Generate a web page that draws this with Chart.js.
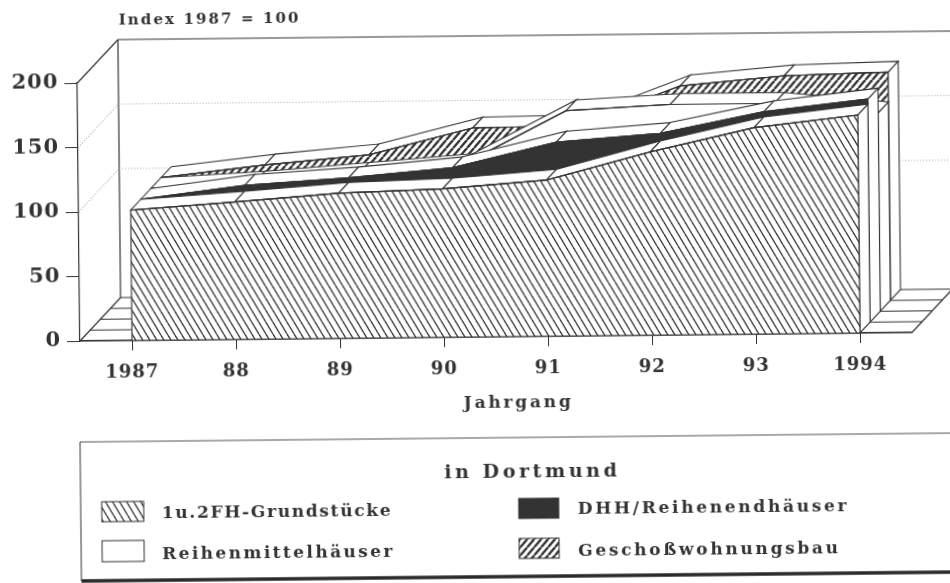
<!DOCTYPE html>
<html>
<head>
<meta charset="utf-8">
<title>Index 1987 = 100</title>
<script src="https://cdn.jsdelivr.net/npm/chart.js@4"></script>
<style>
    html, body { margin: 0; padding: 0; width: 950px; height: 583px; overflow: hidden; background: #fff; }
    #wrap { position: absolute; left: 0; top: 0; transform-origin: 80px 341px; transform: rotate(-0.587deg); filter: blur(0.45px); }
</style>
</head>
<body>
<div id="wrap"><canvas id="chart" width="1010" height="620"></canvas></div>
<script>
var years = ['1987', '88', '89', '90', '91', '92', '93', '1994'];

var grundstuecke = [101, 106.5, 112.5, 115, 121, 142, 160, 169];
var reihenend = [101, 111, 116, 123, 142, 148, 164, 173];
var reihenmittel = [101, 105, 111, 117, 158, 162, 162, 154];
var geschoss = [101, 110, 117, 137, 138, 168, 175, 177];

var ink = '#333333';
var fontName = '"DejaVu Serif", serif';
var depthX = 10.25;
var depthY = -10.75;

function hatch(w, h, down, lineWidth) {
    var tile = document.createElement('canvas');
    tile.width = w;
    tile.height = h;
    var c = tile.getContext('2d');
    c.fillStyle = '#fff';
    c.fillRect(0, 0, w, h);
    c.strokeStyle = ink;
    c.lineWidth = lineWidth;
    [-w, 0, w].forEach(function (s) {
        c.beginPath();
        c.moveTo(s, down ? 0 : h);
        c.lineTo(s + w, down ? h : 0);
        c.stroke();
    });
    return document.createElement('canvas').getContext('2d').createPattern(tile, 'repeat');
}

var backslash = hatch(7, 12, true, 1.3);
var slash = hatch(7, 8, false, 2.4);

var faces = [backslash, ink, '#fff', slash];

function line(ctx, x1, y1, x2, y2) {
    ctx.beginPath();
    ctx.moveTo(x1, y1);
    ctx.lineTo(x2, y2);
    ctx.stroke();
}

function polygon(ctx, pts, fill) {
    ctx.beginPath();
    pts.forEach(function (p, i) {
        if (i === 0) ctx.moveTo(p[0], p[1]);
        else ctx.lineTo(p[0], p[1]);
    });
    ctx.closePath();
    ctx.fillStyle = fill;
    ctx.fill();
    ctx.stroke();
}

// back wall, floor and the dotted grid behind the series
var wallPlugin = {
    id: 'wall',
    beforeDatasetsDraw: function (chart) {
        var ctx = chart.ctx;
        var y = chart.scales.y;
        var x = chart.scales.x;
        var bx = depthX * 4;
        var by = depthY * 4;
        ctx.save();
        ctx.strokeStyle = ink;
        ctx.lineWidth = 1.2;
        line(ctx, x.left, y.top, x.left + bx, y.top + by);
        line(ctx, x.left + bx, y.top + by, 1010, y.top + by);
        line(ctx, x.left + bx, y.top + by, x.left + bx, y.bottom + by);
        line(ctx, x.left, y.bottom, x.left + bx, y.bottom + by);
        line(ctx, x.right, y.bottom, x.right + bx, y.bottom + by);
        for (var k = 0; k <= 4; k++) {
            line(ctx, x.left + depthX * k, y.bottom + depthY * k, x.right + depthX * k, y.bottom + depthY * k);
        }
        ctx.strokeStyle = '#a8a8a8';
        ctx.setLineDash([1, 2]);
        y.ticks.forEach(function (t) {
            if (t.value !== 100 && t.value !== 150) return;
            var py = y.getPixelForValue(t.value);
            line(ctx, x.left, py, x.left + bx, py + by);
            line(ctx, x.left + bx, py + by, 1010, py + by);
        });
        ctx.restore();
    },
    beforeDatasetDraw: function (chart, args) {
        var ctx = chart.ctx;
        var k = args.index;
        var pts = args.meta.data;
        var base = chart.scales.y.getPixelForValue(0);
        var ox = depthX * k;
        var oy = depthY * k;
        var last = pts[pts.length - 1];
        var face = [];
        var i;

        ctx.save();
        ctx.strokeStyle = ink;
        ctx.lineWidth = 1.1;

        // right end of the slab
        polygon(ctx, [
            [last.x + ox, last.y + oy],
            [last.x + ox + depthX, last.y + oy + depthY],
            [last.x + ox + depthX, base + oy + depthY],
            [last.x + ox, base + oy]
        ], '#fff');

        // top of the slab, one panel per year
        for (i = 0; i < pts.length - 1; i++) {
            polygon(ctx, [
                [pts[i].x + ox, pts[i].y + oy],
                [pts[i + 1].x + ox, pts[i + 1].y + oy],
                [pts[i + 1].x + ox + depthX, pts[i + 1].y + oy + depthY],
                [pts[i].x + ox + depthX, pts[i].y + oy + depthY]
            ], '#fff');
        }

        // front of the slab
        face.push([pts[0].x + ox, base + oy]);
        pts.forEach(function (p) {
            face.push([p.x + ox, p.y + oy]);
        });
        face.push([last.x + ox, base + oy]);
        polygon(ctx, face, faces[k]);
        ctx.restore();

        ctx.save();
        ctx.translate(ox, oy);
    },
    afterDatasetDraw: function (chart) {
        chart.ctx.restore();
    }
};

function swatch(ctx, x, y, w, h, fill) {
    ctx.fillStyle = fill;
    ctx.fillRect(x, y, w, h);
    ctx.strokeRect(x, y, w, h);
}

function label(ctx, text, x, y, spacing) {
    ctx.letterSpacing = spacing + 'px';
    ctx.fillText(text, x, y);
}

// headline, axis name and the boxed legend
var textPlugin = {
    id: 'texts',
    beforeDraw: function (chart) {
        chart.ctx.letterSpacing = '1px';
    },
    afterDraw: function (chart) {
        var ctx = chart.ctx;
        ctx.save();
        ctx.fillStyle = ink;
        ctx.strokeStyle = ink;
        ctx.textBaseline = 'middle';

        ctx.font = 'bold 15px ' + fontName;
        label(ctx, 'Index 1987 = 100', 122, 21, 2.1);

        ctx.font = 'bold 17px ' + fontName;
        ctx.textAlign = 'center';
        label(ctx, 'Jahrgang', 518, 408, 2.8);
        ctx.font = 'bold 19px ' + fontName;
        label(ctx, 'in Dortmund', 531, 477, 3.6);
        ctx.font = 'bold 17px ' + fontName;
        ctx.textAlign = 'left';

        ctx.lineWidth = 1.2;
        ctx.strokeStyle = '#555';
        line(ctx, 79, 442, 1010, 442);
        line(ctx, 79, 442, 79, 581);
        ctx.lineWidth = 3.5;
        ctx.strokeStyle = '#2a2a2a';
        line(ctx, 79, 581, 1010, 581);

        ctx.lineWidth = 1;
        ctx.strokeStyle = ink;
        swatch(ctx, 100, 502, 42, 20, backslash);
        swatch(ctx, 100, 541, 42, 21, '#fff');
        swatch(ctx, 517, 503, 40, 20, ink);
        swatch(ctx, 517, 543, 40, 20, slash);

        ctx.fillStyle = ink;
        label(ctx, '1u.2FH-Grundstücke', 160, 515, 1.7);
        label(ctx, 'Reihenmittelhäuser', 160, 556, 2.4);
        label(ctx, 'DHH/Reihenendhäuser', 576, 515, 2.7);
        label(ctx, 'Geschoßwohnungsbau', 576, 557, 2.7);
        ctx.restore();
    }
};

function series(name, values) {
    return {
        label: name,
        data: values,
        borderColor: ink,
        borderWidth: 1.2,
        pointRadius: 0,
        tension: 0,
        fill: false,
        clip: false
    };
}

new Chart(document.getElementById('chart'), {
    type: 'line',
    data: {
        labels: years,
        datasets: [
            series('1u.2FH-Grundstücke', grundstuecke),
            series('DHH/Reihenendhäuser', reihenend),
            series('Reihenmittelhäuser', reihenmittel),
            series('Geschoßwohnungsbau', geschoss)
        ]
    },
    plugins: [wallPlugin, textPlugin],
    options: {
        responsive: false,
        animation: false,
        layout: {padding: {left: 0, top: 83, right: 98, bottom: 620 - 341 - 47}},
        plugins: {legend: {display: false}, title: {display: false}, tooltip: {enabled: false}},
        scales: {
            x: {
                type: 'category',
                offset: true,
                afterFit: function (scale) { scale.height = 47; },
                border: {color: ink, width: 1.2},
                grid: {drawOnChartArea: false, tickLength: 10, color: ink, offset: false},
                ticks: {
                    color: ink,
                    padding: 12,
                    maxRotation: 0,
                    autoSkip: false,
                    font: {family: fontName, size: 18, weight: 'bold'}
                }
            },
            y: {
                min: 0,
                max: 200,
                afterFit: function (scale) { scale.width = 80; },
                border: {color: ink, width: 1.2},
                grid: {drawOnChartArea: false, tickLength: 13, color: ink},
                ticks: {
                    color: ink,
                    padding: 6,
                    stepSize: 50,
                    font: {family: fontName, size: 21, weight: 'bold'}
                }
            }
        }
    }
});
</script>
</body>
</html>
